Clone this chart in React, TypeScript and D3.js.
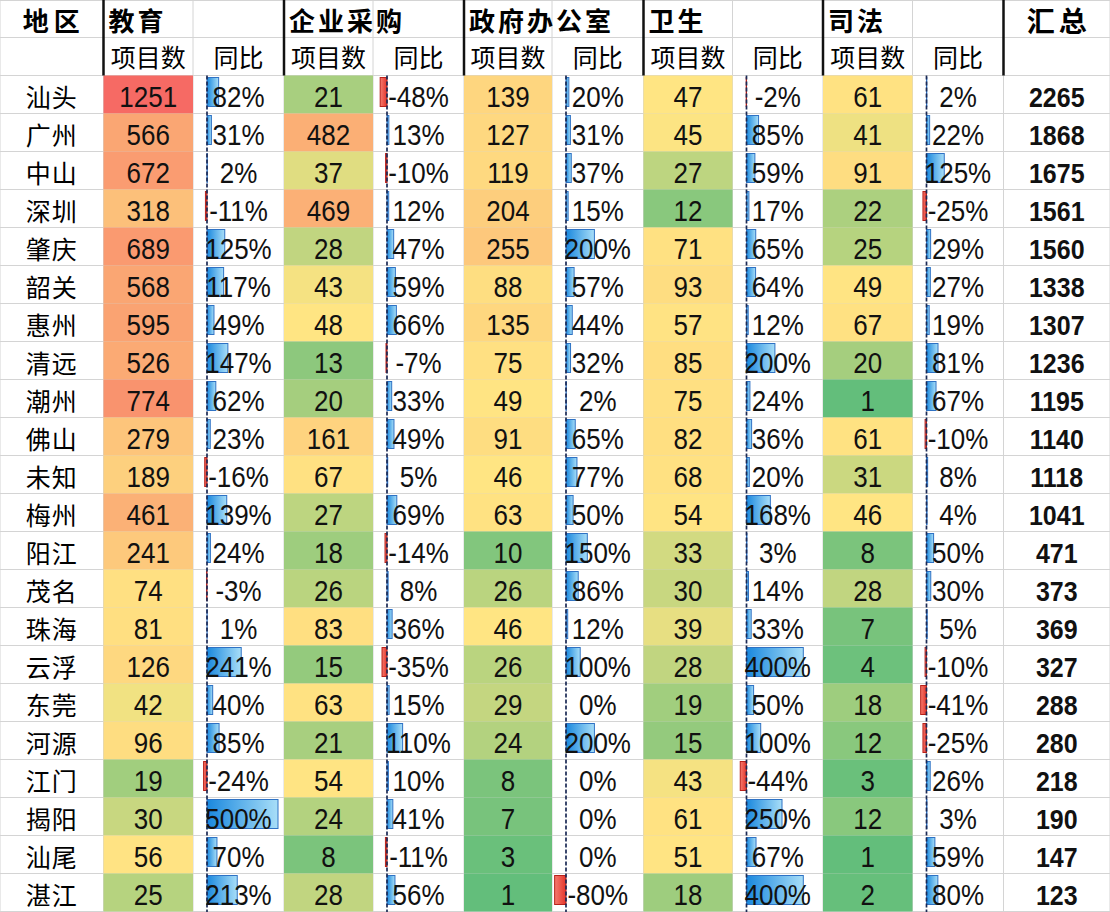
import React from "react";
import * as d3 from "d3";

const regions = ["汕头","广州","中山","深圳","肇庆","韶关","惠州","清远","潮州","佛山","未知","梅州","阳江","茂名","珠海","云浮","东莞","河源","江门","揭阳","汕尾","湛江"];
const eduCount = [1251,566,672,318,689,568,595,526,774,279,189,461,241,74,81,126,42,96,19,30,56,25];
const eduYoY = [82,31,2,-11,125,117,49,147,62,23,-16,139,24,-3,1,241,40,85,-24,500,70,213];
const entCount = [21,482,37,469,28,43,48,13,20,161,67,27,18,26,83,15,63,21,54,24,8,28];
const entYoY = [-48,13,-10,12,47,59,66,-7,33,49,5,69,-14,8,36,-35,15,110,10,41,-11,56];
const govCount = [139,127,119,204,255,88,135,75,49,91,46,63,10,26,46,26,29,24,8,7,3,1];
const govYoY = [20,31,37,15,200,57,44,32,2,65,77,50,150,86,12,100,0,200,0,0,0,-80];
const healthCount = [47,45,27,12,71,93,57,85,75,82,68,54,33,30,39,28,19,15,43,61,51,18];
const healthYoY = [-2,85,59,17,65,64,12,200,24,36,20,168,3,14,33,400,50,100,-44,250,67,400];
const judCount = [61,41,91,22,25,49,67,20,1,61,31,46,8,28,7,4,18,12,3,12,1,2];
const judYoY = [2,22,125,-25,29,27,19,81,67,-10,8,4,50,30,5,-10,-41,-25,26,3,59,80];
const totals = [2265,1868,1675,1561,1560,1338,1307,1236,1195,1140,1118,1041,471,373,369,327,288,280,218,190,147,123];

const groupNames = ["教育","企业采购","政府办公室","卫生","司法"];
const subHeaders = ["项目数","同比"];
const regionHeader = "地区";
const totalHeader = "汇总";

const W = 1110;
const H = 912;
const colX = [0, 103.5, 193, 284, 373, 464, 552, 643.5, 732.5, 823, 912.5, 1003.5, 1110];
const headerRow1 = 37.5;
const dataTop = 75.5;
const rowH = 38;

const CJK = "'Noto Sans CJK SC', 'Noto Sans', sans-serif";
const NUM = "'Liberation Sans', Arial, 'Noto Sans CJK SC', sans-serif";

export default function App() {
  const counts = [eduCount, entCount, govCount, healthCount, judCount];
  const yoys = [eduYoY, entYoY, govYoY, healthYoY, judYoY];
  const pooled = counts.flat().slice().sort((a, b) => a - b);
  const mn = d3.min(pooled) as number;
  const mx = d3.max(pooled) as number;
  const med = d3.quantile(pooled, 0.5) as number;
  const GREEN = "#63BE7B";
  const YELLOW = "#FFE583";
  const RED = "#F66A64";
  const low = d3.scaleLinear<string>().domain([mn, med]).range([GREEN, YELLOW]).interpolate(d3.interpolateRgb).clamp(true);
  const highT = d3.scalePow().exponent(0.75).domain([med, mx]).range([0, 1]).clamp(true);
  const highI = d3.interpolateRgb(YELLOW, RED);
  const color = (v: number) => (v <= med ? low(v) : highI(highT(v)));

  const barScale = d3.scaleLinear().domain([0, 500]).range([0, 71]);
  const y = d3.scaleBand<number>().domain(d3.range(regions.length)).range([dataTop, dataTop + rowH * regions.length]);

  const gridColor = "#D4D4D4";
  const elems: React.ReactNode[] = [];

  // gridlines
  const hLines = [0.5, headerRow1, ...d3.range(regions.length + 1).map((i) => dataTop + i * rowH)];
  hLines.forEach((yy, i) =>
    elems.push(<line key={"h" + i} x1={0} x2={W} y1={yy} y2={yy} stroke={gridColor} strokeWidth={1} />)
  );
  colX.forEach((xx, i) =>
    elems.push(<line key={"v" + i} x1={xx} x2={xx} y1={0} y2={H} stroke={gridColor} strokeWidth={1} />)
  );

  // heat cells
  counts.forEach((arr, g) => {
    const x0 = colX[1 + g * 2];
    const x1 = colX[2 + g * 2];
    arr.forEach((v, i) => {
      elems.push(
        <rect key={`c${g}-${i}`} x={x0} y={y(i)} width={x1 - x0} height={rowH} fill={color(v)} />
      );
    });
  });

  // data bars
  yoys.forEach((arr, g) => {
    const x0 = colX[2 + g * 2];
    const axisX = x0 + 14;
    arr.forEach((v, i) => {
      if (v === 0) return;
      const w = Math.abs(barScale(v) - barScale(0));
      const top = (y(i) as number) + 2;
      if (v > 0) {
        elems.push(
          <rect key={`b${g}-${i}`} x={axisX} y={top} width={w} height={29} fill="url(#gBlue)" stroke="#2F72C4" strokeWidth={1} />
        );
      } else {
        elems.push(
          <rect key={`b${g}-${i}`} x={axisX - w} y={top} width={w} height={29} fill="url(#gRed)" stroke="#B8211A" strokeWidth={1} />
        );
      }
    });
    elems.push(
      <line key={`ax${g}`} x1={axisX} x2={axisX} y1={dataTop} y2={H} stroke="#1B2A55" strokeWidth={1.7} strokeDasharray="4,2" />
    );
  });

  // header thick lines
  [1, 3, 5, 7, 9, 11].forEach((ci) =>
    elems.push(<line key={"t" + ci} x1={colX[ci]} x2={colX[ci]} y1={0} y2={dataTop} stroke="#111" strokeWidth={2.5} />)
  );

  // header texts
  elems.push(
    <text key="hreg" x={(colX[0] + colX[1]) / 2 + 2} y={31} textAnchor="middle" fontFamily={CJK} fontWeight="bold" fontSize={26} letterSpacing={5}>
      {regionHeader}
    </text>
  );
  groupNames.forEach((name, g) => {
    elems.push(
      <text key={"hg" + g} x={colX[1 + g * 2] + 5} y={31} fontFamily={CJK} fontWeight="bold" fontSize={26} letterSpacing={3}>
        {name}
      </text>
    );
    subHeaders.forEach((s, k) => {
      const c = 1 + g * 2 + k;
      elems.push(
        <text key={`hs${g}-${k}`} x={(colX[c] + colX[c + 1]) / 2} y={67} textAnchor="middle" fontFamily={CJK} fontSize={25}>
          {s}
        </text>
      );
    });
  });
  elems.push(
    <text key="htot" x={(colX[11] + colX[12]) / 2 + 2} y={32} textAnchor="middle" fontFamily={CJK} fontWeight="bold" fontSize={28} letterSpacing={4}>
      {totalHeader}
    </text>
  );

  // data texts
  regions.forEach((r, i) => {
    const base = (y(i) as number) + 31;
    elems.push(
      <text key={"r" + i} x={(colX[0] + colX[1]) / 2} y={base} textAnchor="middle" fontFamily={CJK} fontSize={25} letterSpacing={1}>
        {r}
      </text>
    );
    counts.forEach((arr, g) => {
      const c = 1 + g * 2;
      elems.push(
        <text key={`n${g}-${i}`} transform={`translate(${(colX[c] + colX[c + 1]) / 2},${base}) scale(1,1.15)`} textAnchor="middle" fontFamily={NUM} fontSize={26} fill="#111">
          {arr[i]}
        </text>
      );
      const p = yoys[g][i];
      elems.push(
        <text key={`p${g}-${i}`} transform={`translate(${(colX[c + 1] + colX[c + 2]) / 2},${base}) scale(1,1.15)`} textAnchor="middle" fontFamily={NUM} fontSize={26} fill="#111">
          {`${p}%`}
        </text>
      );
    });
    elems.push(
      <text key={"tot" + i} transform={`translate(${(colX[11] + colX[12]) / 2},${base}) scale(1,1.12)`} textAnchor="middle" fontFamily={NUM} fontWeight="bold" fontSize={25} fill="#111">
        {totals[i]}
      </text>
    );
  });

  return (
    <svg width={W} height={H} style={{ position: "absolute", left: 0, top: 0, background: "#fff" }}>
      <defs>
        <linearGradient id="gBlue" x1="0" x2="1" y1="0" y2="0">
          <stop offset="0" stopColor="#1A88DE" />
          <stop offset="1" stopColor="#A8DEF8" />
        </linearGradient>
        <linearGradient id="gRed" x1="0" x2="1" y1="0" y2="0">
          <stop offset="0" stopColor="#F47A6E" />
          <stop offset="1" stopColor="#E5352B" />
        </linearGradient>
      </defs>
      <rect x={0} y={0} width={W} height={H} fill="#fff" />
      {elems}
    </svg>
  );
}
